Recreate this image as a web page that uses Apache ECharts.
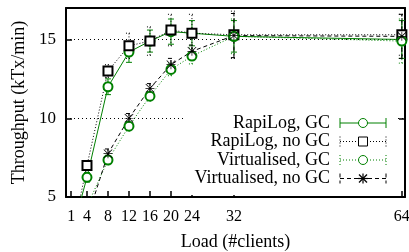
<!DOCTYPE html>
<html>
<head>
<meta charset="utf-8">
<script src="https://cdn.jsdelivr.net/npm/echarts@6/dist/echarts.min.js"></script>
<style>
  html, body { margin: 0; padding: 0; background: #fff; }
  #chart { width: 409px; height: 252px; }
</style>
</head>
<body>
<div id="chart"></div>
<script>
// load (#clients)
const clients = [1, 4, 8, 12, 16, 20, 24, 32, 64];
const xTicks = [1, 4, 8, 12, 16, 20, 24, 32, 64];
const yTicks = [5, 10, 15];

// throughput (kTx/min) and half-width of the error bars
const rapiGC = [2.6, 6.25, 12.0, 14.2, 14.9, 15.5, 15.4, 15.2, 15.0];
const rapiGCErr = [0.2, 0.3, 0.5, 0.65, 0.7, 0.8, 0.8, 1.0, 1.2];
const rapiNoGC = [2.3, 7.0, 13.0, 14.6, 14.9, 15.6, 15.4, 15.3, 15.3];
const rapiNoGCErr = [0.2, 0.3, 0.4, 0.8, 0.9, 1.0, 1.2, 1.5, 1.3];
const virtGC = [1.2, 4.4, 7.35, 9.5, 11.4, 13.1, 13.95, 15.2, 14.9];
const virtGCErr = [0.1, 0.2, 0.3, 0.3, 0.3, 0.4, 0.5, 1.1, 1.4];
const virtNoGC = [1.0, 3.6, 7.75, 10.0, 11.9, 13.4, 14.25, 15.25, 15.2];
const virtNoGCErr = [0.1, 0.2, 0.3, 0.3, 0.3, 0.4, 0.4, 1.4, 1.4];

const GREEN = '#008000';
const BLACK = '#000';
const FONT = '"Liberation Serif", "DejaVu Serif", serif';

// gnuplot style asterisk (+ and x)
const STAR = 'path://M46 0L54 0L54 100L46 100Z M0 46L100 46L100 54L0 54Z M0 6L6 0L100 94L94 100Z M94 0L100 6L6 100L0 94Z';

const styles = [
  { name: 'RapiLog, GC', y: rapiGC, err: rapiGCErr, color: GREEN, dash: null, symbol: 'emptyCircle' },
  { name: 'RapiLog, no GC', y: rapiNoGC, err: rapiNoGCErr, color: BLACK, dash: [1, 2], symbol: 'emptyRect' },
  { name: 'Virtualised, GC', y: virtGC, err: virtGCErr, color: GREEN, dash: [1, 2], symbol: 'emptyCircle' },
  { name: 'Virtualised, no GC', y: virtNoGC, err: virtNoGCErr, color: BLACK, dash: [4, 3], symbol: STAR }
];

const series = [];
styles.forEach(s => {
  // error bars
  series.push({
    type: 'custom',
    clip: true,
    silent: true,
    z: 2,
    data: clients.map((x, i) => [x, s.y[i] - s.err[i], s.y[i] + s.err[i]]),
    encode: { x: 0, y: [1, 2] },
    renderItem: (params, api) => {
      const lo = api.coord([api.value(0), api.value(1)]);
      const hi = api.coord([api.value(0), api.value(2)]);
      const style = { stroke: s.color, lineWidth: 1, lineDash: s.dash || null };
      const w = 3;
      return {
        type: 'group',
        children: [
          { type: 'line', shape: { x1: lo[0], y1: lo[1], x2: hi[0], y2: hi[1] }, style: style },
          { type: 'line', shape: { x1: lo[0] - w, y1: lo[1], x2: lo[0] + w, y2: lo[1] }, style: style },
          { type: 'line', shape: { x1: hi[0] - w, y1: hi[1], x2: hi[0] + w, y2: hi[1] }, style: style }
        ]
      };
    }
  });
  // line + points
  const isStar = s.symbol === STAR;
  series.push({
    name: s.name,
    type: 'line',
    data: clients.map((x, i) => [x, s.y[i]]),
    symbol: s.symbol,
    symbolSize: 9,
    showAllSymbol: true,
    clip: true,
    silent: true,
    z: 3,
    lineStyle: { color: s.color, width: 1, type: s.dash || 'solid' },
    itemStyle: isStar
      ? { color: s.color, borderWidth: 0 }
      : { color: s.color, borderWidth: 1 }
  });
});

// legend (gnuplot key) drawn as graphic items
const legendX = 330, sampleL = 340, sampleR = 386, rowTop = 123, rowGap = 18.5;
const legendItems = [{
  type: 'rect', shape: { x: 186, y: 110, width: 212, height: 85 },
  style: { fill: '#fff' }, z: 1
}];
styles.forEach((s, i) => {
  const y = rowTop + i * rowGap;
  const ls = { stroke: s.color, lineWidth: 1, lineDash: s.dash || null };
  legendItems.push({
    type: 'text', x: legendX, y: y, z: 10,
    style: { text: s.name, font: '18px ' + FONT, fill: '#000', align: 'right', verticalAlign: 'middle' }
  });
  legendItems.push({ type: 'line', z: 10, shape: { x1: sampleL, y1: y, x2: sampleR, y2: y }, style: ls });
  legendItems.push({ type: 'line', z: 10, shape: { x1: sampleL, y1: y - 5, x2: sampleL, y2: y + 5 }, style: ls });
  legendItems.push({ type: 'line', z: 10, shape: { x1: sampleR, y1: y - 5, x2: sampleR, y2: y + 5 }, style: ls });
  const mx = (sampleL + sampleR) / 2;
  if (s.symbol === 'emptyCircle') {
    legendItems.push({ type: 'circle', z: 11, shape: { cx: mx, cy: y, r: 4.5 }, style: { fill: '#fff', stroke: s.color, lineWidth: 1 } });
  } else if (s.symbol === 'emptyRect') {
    legendItems.push({ type: 'rect', z: 11, shape: { x: mx - 4.5, y: y - 4.5, width: 9, height: 9 }, style: { fill: '#fff', stroke: s.color, lineWidth: 1 } });
  } else {
    const ss = { stroke: '#000', lineWidth: 1.2 };
    legendItems.push({ type: 'line', z: 11, shape: { x1: mx - 5, y1: y, x2: mx + 5, y2: y }, style: ss });
    legendItems.push({ type: 'line', z: 11, shape: { x1: mx, y1: y - 5, x2: mx, y2: y + 5 }, style: ss });
    legendItems.push({ type: 'line', z: 11, shape: { x1: mx - 4, y1: y - 4, x2: mx + 4, y2: y + 4 }, style: ss });
    legendItems.push({ type: 'line', z: 11, shape: { x1: mx - 4, y1: y + 4, x2: mx + 4, y2: y - 4 }, style: ss });
  }
});

const chart = echarts.init(document.getElementById('chart'), null, { renderer: 'canvas' });
chart.setOption({
  animation: false,
  backgroundColor: '#fff',
  textStyle: { fontFamily: FONT },
  grid: { left: 66, right: 4, top: 8, bottom: 55, outerBoundsMode: 'none', containLabel: false },
  xAxis: [{
    type: 'value', min: 0, max: 64.6, position: 'bottom',
    name: 'Load (#clients)', nameLocation: 'middle', nameGap: 36,
    nameTextStyle: { fontSize: 18, color: '#000', fontFamily: FONT },
    axisLine: { show: true, onZero: false, lineStyle: { color: '#000', width: 2 } },
    axisTick: { show: true, inside: true, length: 6, customValues: xTicks, lineStyle: { color: '#000', width: 1.5 } },
    axisLabel: { customValues: xTicks, fontSize: 16, color: '#000', fontFamily: FONT, margin: 12, hideOverlap: false },
    splitLine: { show: false }
  }, {
    type: 'value', min: 0, max: 64.6, position: 'top',
    axisLine: { show: true, onZero: false, lineStyle: { color: '#000', width: 2 } },
    axisTick: { show: false }, axisLabel: { show: false }, splitLine: { show: false }
  }],
  yAxis: [{
    type: 'value', min: 5, max: 17, interval: 5, position: 'left',
    name: 'Throughput (kTx/min)', nameLocation: 'middle', nameGap: 35,
    nameTextStyle: { fontSize: 18, color: '#000', fontFamily: FONT },
    axisLine: { show: true, onZero: false, lineStyle: { color: '#000', width: 2 } },
    axisTick: { show: true, inside: true, length: 6, customValues: yTicks, lineStyle: { color: '#000', width: 1.5 } },
    axisLabel: { customValues: yTicks, fontSize: 17, color: '#000', fontFamily: FONT, margin: 10 },
    splitLine: { show: true, lineStyle: { color: '#000', width: 1, type: [1, 3] } }
  }, {
    type: 'value', min: 5, max: 17, interval: 5, position: 'right',
    axisLine: { show: true, onZero: false, lineStyle: { color: '#000', width: 2 } },
    axisTick: { show: true, inside: true, length: 6, customValues: yTicks, lineStyle: { color: '#000', width: 1.5 } },
    axisLabel: { show: false }, splitLine: { show: false }
  }],
  series: series,
  graphic: legendItems
});
</script>
</body>
</html>
